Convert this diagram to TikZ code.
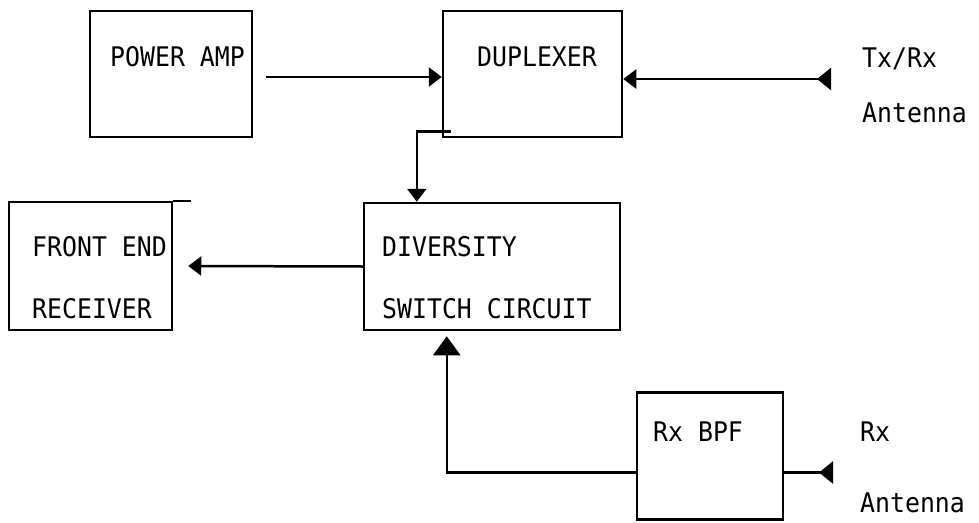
\documentclass[tikz,border=0pt]{standalone}
\usepackage{fontspec}
\newfontfamily\drawfont{DejaVu Sans Mono}[FakeStretch=0.92]
\usetikzlibrary{arrows.meta}
\begin{document}
\begin{tikzpicture}[x=1pt,y=-1pt,
  box/.style={draw, line width=2.5pt, inner sep=0pt},
  lbl/.style={anchor=west, inner sep=0pt, font=\drawfont\fontsize{27}{27}\selectfont},
  conn/.style={line width=2.5pt},
  tipend/.style={-{Triangle[length=13pt,width=19pt]}},
  bigtip/.style={-{Triangle[length=19pt,width=27pt]}},
  antstyle/.style={{Triangle[reversed,length=14pt,width=22pt]}-{Triangle[length=13pt,width=19pt]}},
]
\fill[white] (0,0) rectangle (979,522);
\useasboundingbox (0,0) rectangle (979,522);

% boxes
\node[box, minimum width=162pt, minimum height=126pt] (PA)  at (171,74)    {};
\node[box, minimum width=179pt, minimum height=126pt] (DUP) at (532.5,74)  {};
\node[box, minimum width=163pt, minimum height=128pt] (FE)  at (90.5,266)  {};
\node[box, minimum width=256pt, minimum height=127pt] (DIV) at (492,266.5) {};
\node[box, minimum width=146pt, minimum height=127pt] (BPF) at (710,456)   {};

% texts
\node[lbl] (tPA)   at (110,57)  {POWER AMP};
\node[lbl] (tDUP)  at (477,57)  {DUPLEXER};
\node[lbl] (tFE1)  at (32,247)  {FRONT END};
\node[lbl] (tFE2)  at (32,309)  {RECEIVER};
\node[lbl] (tDIV1) at (382,247) {DIVERSITY};
\node[lbl] (tDIV2) at (382,309) {SWITCH CIRCUIT};
\node[lbl] (tBPF)  at (653,432) {Rx BPF};
\node[lbl] (tA1a)  at (862,59)  {Tx/Rx};
\node[lbl] (tA1b)  at (862,113) {Antenna};
\node[lbl] (tA2a)  at (860,432) {Rx};
\node[lbl] (tA2b)  at (860,503) {Antenna};

% antenna ends
\coordinate (ant1) at (831,79);
\coordinate (ant2) at (833,472.5);

% connectors
\draw[conn,tipend,shorten <=13pt] ([yshift=-3pt]PA.east) -- ([yshift=-3pt]DUP.west);
\draw[conn,antstyle] (ant1) -- (DUP.east |- ant1);
\draw[conn,tipend] ([xshift=9pt,yshift=7pt]DUP.south west) -| ([xshift=54pt]DIV.north west);
\draw[conn,tipend] (DIV.west) -- ([xshift=15pt]FE.east);
\draw[conn,bigtip] ([yshift=-16.5pt]BPF.west) -| ([xshift=84pt,yshift=-5pt]DIV.south west);
\draw[conn,{Triangle[reversed,length=14pt,width=22pt]}-] (ant2) -- (BPF.east |- ant2);
\draw[conn] (FE.north east) -- ++(18,0);
\end{tikzpicture}
\end{document}
